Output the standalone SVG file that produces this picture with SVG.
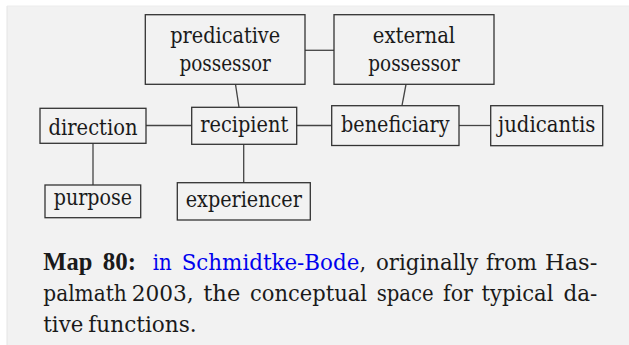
<svg xmlns="http://www.w3.org/2000/svg" width="629" height="345" viewBox="0 0 629 345">
<style>
.box{fill:none;stroke:#333;stroke-width:1.3}
.edge{stroke:#444;stroke-width:1.3;fill:none}
.lbl{font-family:"DejaVu Serif Condensed","DejaVu Serif",serif;font-stretch:condensed;font-size:22px;fill:#1a1a1a;text-anchor:middle}
.cap{font-family:"DejaVu Serif Condensed","DejaVu Serif",serif;font-stretch:condensed;font-size:23px;fill:#1a1a1a}
.b{font-family:"Liberation Serif","DejaVu Serif",serif;font-stretch:normal;font-size:26px;font-weight:bold}
.link{fill:#0000ee}
</style>
<rect x="0" y="0" width="629" height="345" fill="#ffffff"/>
<rect x="7" y="6" width="622" height="339" fill="#f2f2f2"/>
<line x1="7" y1="6" x2="7" y2="345" stroke="#e4e4e4" stroke-width="1"/>
<line x1="7" y1="6" x2="629" y2="6" stroke="#ececec" stroke-width="1"/>

<g id="connectors">
<line class="edge" x1="305" y1="50.3" x2="334" y2="50.3"/>
<line class="edge" x1="235.5" y1="84.3" x2="239" y2="107.3"/>
<line class="edge" x1="406" y1="84.3" x2="402" y2="105.7"/>
<line class="edge" x1="146" y1="125.5" x2="191.7" y2="125.5"/>
<line class="edge" x1="296.7" y1="125.5" x2="331.7" y2="125.5"/>
<line class="edge" x1="459" y1="125.5" x2="490.7" y2="125.5"/>
<line class="edge" x1="93" y1="143.3" x2="93" y2="185"/>
<line class="edge" x1="243.7" y1="144.3" x2="243.7" y2="182.7"/>
</g>

<g id="predicative-possessor">
<rect class="box" x="145.3" y="14.7" width="159.7" height="69.6"/>
<text class="lbl" x="225.2" y="42.7" textLength="110" lengthAdjust="spacingAndGlyphs">predicative</text>
<text class="lbl" x="225.2" y="70.7" textLength="91.5" lengthAdjust="spacingAndGlyphs">possessor</text>
</g>
<g id="external-possessor">
<rect class="box" x="334" y="14.7" width="160" height="69.6"/>
<text class="lbl" x="414" y="42.7" textLength="82.3" lengthAdjust="spacingAndGlyphs">external</text>
<text class="lbl" x="414" y="70.7" textLength="91.5" lengthAdjust="spacingAndGlyphs">possessor</text>
</g>
<g id="direction">
<rect class="box" x="40" y="108.3" width="106" height="35"/>
<text class="lbl" x="93" y="134.7" textLength="89" lengthAdjust="spacingAndGlyphs">direction</text>
</g>
<g id="recipient">
<rect class="box" x="191.7" y="107.3" width="105" height="37"/>
<text class="lbl" x="244.2" y="131.8" textLength="88" lengthAdjust="spacingAndGlyphs">recipient</text>
</g>
<g id="beneficiary">
<rect class="box" x="331.7" y="105.7" width="127.3" height="39.8"/>
<text class="lbl" x="395.3" y="131.8" textLength="108.5" lengthAdjust="spacingAndGlyphs">beneficiary</text>
</g>
<g id="judicantis">
<rect class="box" x="490.7" y="105.7" width="112" height="40"/>
<text class="lbl" x="546.7" y="131.6" textLength="97.3" lengthAdjust="spacingAndGlyphs">judicantis</text>
</g>
<g id="purpose">
<rect class="box" x="45" y="185" width="95.7" height="32.7"/>
<text class="lbl" x="92.9" y="204.6" textLength="78.3" lengthAdjust="spacingAndGlyphs">purpose</text>
</g>
<g id="experiencer">
<rect class="box" x="177.3" y="182.7" width="133" height="37.3"/>
<text class="lbl" x="243.8" y="207" textLength="116.2" lengthAdjust="spacingAndGlyphs">experiencer</text>
</g>

<g id="caption">
<text class="cap b" x="43.3" y="270.3" textLength="49" lengthAdjust="spacingAndGlyphs">Map</text>
<text class="cap b" x="102.7" y="270.3" textLength="33.3" lengthAdjust="spacingAndGlyphs">80:</text>
<text class="cap link" x="152.7" y="270.3" textLength="19" lengthAdjust="spacingAndGlyphs">in</text>
<text class="cap link" x="181.7" y="270.3" textLength="177.6" lengthAdjust="spacingAndGlyphs">Schmidtke-Bode</text>
<text class="cap" x="359.5" y="270.3">,</text>
<text class="cap" x="376" y="270.3" textLength="102.3" lengthAdjust="spacingAndGlyphs">originally</text>
<text class="cap" x="486" y="270.3" textLength="51" lengthAdjust="spacingAndGlyphs">from</text>
<text class="cap" x="545" y="270.3" textLength="52.3" lengthAdjust="spacingAndGlyphs">Has-</text>

<text class="cap" x="43.3" y="300.7" textLength="83.4" lengthAdjust="spacingAndGlyphs">palmath</text>
<text class="cap" x="131.7" y="300.7" textLength="62" lengthAdjust="spacingAndGlyphs">2003,</text>
<text class="cap" x="203.3" y="300.7" textLength="37" lengthAdjust="spacingAndGlyphs">the</text>
<text class="cap" x="250" y="300.7" textLength="117" lengthAdjust="spacingAndGlyphs">conceptual</text>
<text class="cap" x="376.7" y="300.7" textLength="57" lengthAdjust="spacingAndGlyphs">space</text>
<text class="cap" x="443" y="300.7" textLength="30" lengthAdjust="spacingAndGlyphs">for</text>
<text class="cap" x="481.5" y="300.7" textLength="72" lengthAdjust="spacingAndGlyphs">typical</text>
<text class="cap" x="563.5" y="300.7" textLength="33.8" lengthAdjust="spacingAndGlyphs">da-</text>

<text class="cap" x="43.3" y="331.5" textLength="40" lengthAdjust="spacingAndGlyphs">tive</text>
<text class="cap" x="88.3" y="331.5" textLength="108.4" lengthAdjust="spacingAndGlyphs">functions.</text>
</g>
</svg>
